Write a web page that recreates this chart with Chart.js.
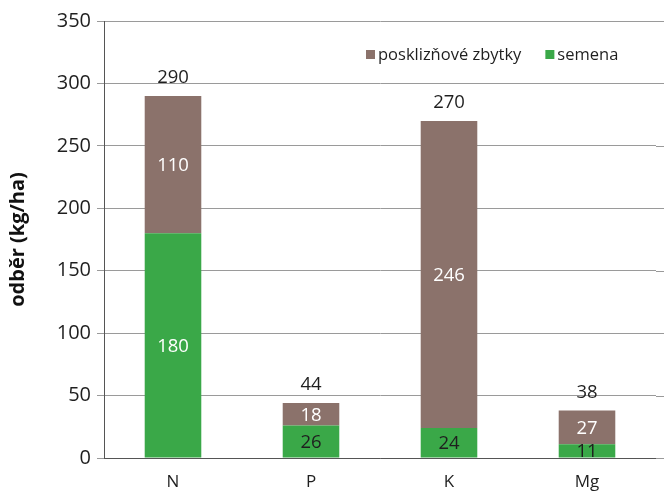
<!DOCTYPE html>
<html lang="cs">
<head>
<meta charset="utf-8">
<title>Odběr živin</title>
<script src="https://cdn.jsdelivr.net/npm/chart.js@4/dist/chart.umd.min.js"></script>
<style>
  html, body { margin: 0; padding: 0; background: #ffffff; }
  #wrap { width: 664px; height: 495px; }
</style>
</head>
<body>
<div id="wrap"><canvas id="chart" width="664" height="495"></canvas></div>
<script>
// Nutrients on the x axis
const categories = ['N', 'P', 'K', 'Mg'];
// Uptake in seeds (kg/ha)
const seeds = [180, 26, 24, 11];
// Uptake in harvest residues (kg/ha)
const residues = [110, 18, 246, 27];
// Y axis tick labels
const yTicks = [0, 50, 100, 150, 200, 250, 300, 350];

const FONT = "'Open Sans', 'Noto Sans', sans-serif";
const GREEN = '#3aa848';
const BROWN = '#8b726b';

// Value labels: segment values inside each bar, totals above each stack
const valueLabels = {
  id: 'valueLabels',
  afterDatasetsDraw(chart) {
    const ctx = chart.ctx;
    ctx.save();
    ctx.font = '18.5px ' + FONT;
    ctx.textAlign = 'center';
    ctx.textBaseline = 'middle';
    chart.data.datasets.forEach((ds, di) => {
      const meta = chart.getDatasetMeta(di);
      meta.data.forEach((bar, i) => {
        const cy = (bar.y + bar.base) / 2;
        let color = '#ffffff';
        if (di === 0 && i > 0) color = '#1f1f1f';
        ctx.fillStyle = color;
        ctx.fillText(String(ds.data[i]), bar.x, cy + 1);
      });
    });
    const topMeta = chart.getDatasetMeta(chart.data.datasets.length - 1);
    topMeta.data.forEach((bar, i) => {
      const total = chart.data.datasets.reduce((s, ds) => s + ds.data[i], 0);
      ctx.fillStyle = '#1f1f1f';
      ctx.fillText(String(total), bar.x, bar.y - 18);
    });
    ctx.restore();
  }
};

// Legend drawn inside the plot, top right; residues listed first
const innerLegend = {
  id: 'innerLegend',
  afterDraw(chart) {
    const ctx = chart.ctx;
    ctx.save();
    ctx.font = '16.5px ' + FONT;
    ctx.textBaseline = 'middle';
    const items = chart.data.datasets.slice().reverse();
    let x = 366;
    const y = 55;
    items.forEach(ds => {
      ctx.fillStyle = ds.backgroundColor;
      ctx.fillRect(x, y - 5, 9, 9);
      ctx.fillStyle = '#1f1f1f';
      ctx.fillText(ds.label, x + 12, y);
      x += 12 + ctx.measureText(ds.label).width + 24;
    });
    ctx.restore();
  }
};

// Horizontal grid lines carried on to the right edge of the canvas
const gridExtend = {
  id: 'gridExtend',
  beforeDatasetsDraw(chart) {
    const ctx = chart.ctx;
    const ys = chart.scales.y;
    ctx.save();
    ctx.strokeStyle = '#9a9a9a';
    ctx.lineWidth = 1;
    ys.ticks.forEach(t => {
      const py = Math.round(ys.getPixelForValue(t.value)) + 0.5;
      ctx.beginPath();
      ctx.moveTo(chart.chartArea.right, py);
      ctx.lineTo(chart.width, py);
      ctx.stroke();
    });
    ctx.restore();
  }
};

new Chart(document.getElementById('chart'), {
  type: 'bar',
  data: {
    labels: categories,
    datasets: [
      { label: 'semena', data: seeds, backgroundColor: GREEN },
      { label: 'posklizňové zbytky', data: residues, backgroundColor: BROWN }
    ]
  },
  options: {
    responsive: false,
    animation: false,
    layout: { padding: { top: 21, right: 8, bottom: 0, left: 0 } },
    datasets: { bar: { barPercentage: 0.41, categoryPercentage: 1 } },
    plugins: {
      legend: { display: false },
      tooltip: { enabled: false }
    },
    scales: {
      x: {
        stacked: true,
        grid: { display: false },
        border: { display: true, color: '#555555', width: 1 },
        ticks: { color: '#1f1f1f', font: { family: FONT, size: 17 }, padding: 6 },
        afterFit(scale) { scale.height = 37; }
      },
      y: {
        stacked: true,
        min: 0,
        max: 350,
        afterBuildTicks(scale) { scale.ticks = yTicks.map(v => ({ value: v })); },
        grid: { color: '#9a9a9a', lineWidth: 1, tickLength: 7, drawTicks: true },
        border: { display: true, color: '#555555', width: 1 },
        ticks: { color: '#1f1f1f', font: { family: FONT, size: 20 }, padding: 6 },
        title: {
          display: true,
          text: 'odběr (kg/ha)',
          color: '#111111',
          font: { family: FONT, size: 20, weight: 'bold' },
          padding: { top: 6, bottom: 0 }
        },
        afterFit(scale) { scale.width = 104; }
      }
    }
  },
  plugins: [gridExtend, valueLabels, innerLegend]
});
</script>
</body>
</html>
